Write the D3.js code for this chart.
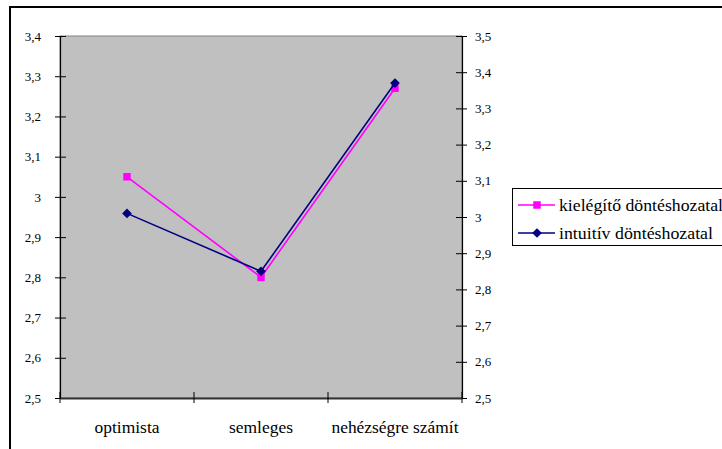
<!DOCTYPE html>
<html>
<head>
<meta charset="utf-8">
<script src="https://cdn.jsdelivr.net/npm/d3@7/dist/d3.min.js"></script>
</head>
<body style="margin:0;background:#fff">
<svg id="chart" width="722" height="449" font-family="Liberation Serif"></svg>
<script>
// Categories along the x axis
const categories = ["optimista", "semleges", "nehézségre számít"];

// Series names (legend order)
const seriesNames = ["kielégítő döntéshozatal", "intuitív döntéshozatal"];

// kielégítő döntéshozatal – plotted on the left (primary) axis
const kielegitoValues = [3.05, 2.80, 3.27];

// intuitív döntéshozatal – plotted on the right (secondary) axis
const intuitivValues = [3.01, 2.85, 3.37];

// Tick values for both value axes
const leftTicks = [2.5, 2.6, 2.7, 2.8, 2.9, 3.0, 3.1, 3.2, 3.3, 3.4];
const rightTicks = [2.5, 2.6, 2.7, 2.8, 2.9, 3.0, 3.1, 3.2, 3.3, 3.4, 3.5];

const SERIF = '"Liberation Serif"';
const svg = d3.select("#chart");
const W = 722, H = 449;
const plot = { left: 60, right: 462, top: 36, bottom: 398 };

// Hungarian decimal comma, "3" for whole values
const fmt = v => (Math.abs(v - Math.round(v)) < 1e-9 ? String(Math.round(v)) : d3.format(".1f")(v).replace(".", ","));

// Scales
const x = d3.scaleBand().domain(categories).range([plot.left, plot.right]).padding(0);
const yL = d3.scaleLinear().domain([2.5, 3.4]).range([plot.bottom, plot.top]);
const yR = d3.scaleLinear().domain([2.5, 3.5]).range([plot.bottom, plot.top]);

// Chart background and outer frame
svg.append("rect").attr("width", W).attr("height", H).attr("fill", "#fff");
svg.append("rect")
  .attr("x", 10).attr("y", 7).attr("width", W + 20).attr("height", H + 20)
  .attr("fill", "none").attr("stroke", "#000").attr("stroke-width", 2);

// Plot area
svg.append("rect")
  .attr("x", plot.left).attr("y", plot.top)
  .attr("width", plot.right - plot.left).attr("height", plot.bottom - plot.top)
  .attr("fill", "#c0c0c0").attr("stroke", "#808080").attr("stroke-width", 1);

// Left axis
const leftAxis = d3.axisLeft(yL).tickValues(leftTicks).tickFormat(fmt).tickSizeInner(5).tickSizeOuter(0).tickPadding(14);
const gL = svg.append("g").attr("transform", `translate(${plot.left},0)`).call(leftAxis);

// Right axis
const rightAxis = d3.axisRight(yR).tickValues(rightTicks).tickFormat(fmt).tickSizeInner(5).tickSizeOuter(0).tickPadding(8);
const gR = svg.append("g").attr("transform", `translate(${plot.right},0)`).call(rightAxis);

// Bottom category axis – ticks sit between categories
const bottomAxis = d3.axisBottom(x).tickSize(0).tickPadding(24);
const gB = svg.append("g").attr("transform", `translate(0,${plot.bottom})`).call(bottomAxis);

[gL, gR, gB].forEach(g => {
  g.attr("font-family", "Liberation Serif").attr("font-size", 13);
  g.select(".domain").attr("stroke", "#000").attr("stroke-width", 1.2);
  g.selectAll("text").attr("fill", "#000").attr("font-family", "Liberation Serif").style("font-family", SERIF);
});
gL.selectAll("text").style("font-size", "13px");
gR.selectAll("text").style("font-size", "13px");
gB.select(".domain").attr("stroke", "#333").attr("stroke-width", 2);
gB.selectAll("text").style("font-size", "16px");

// Crossing tick marks on the value axes
gL.selectAll(".tick line").attr("x1", 6).attr("x2", -5).attr("stroke", "#000");
gR.selectAll(".tick line").attr("x1", -6).attr("x2", 5).attr("stroke", "#000");

// Category separator ticks
const sepPositions = categories.map(c => x(c)).concat([x(categories[categories.length - 1]) + x.bandwidth()]);
svg.append("g").selectAll("line").data(sepPositions).join("line")
  .attr("x1", d => d).attr("x2", d => d)
  .attr("y1", plot.bottom - 6).attr("y2", plot.bottom + 5)
  .attr("stroke", "#000").attr("stroke-width", 1);

// Stretch category labels to their set widths
const catWidths = [65, 64, 127];
gB.selectAll("text")
  .attr("textLength", (d, i) => catWidths[i])
  .attr("lengthAdjust", "spacingAndGlyphs");

const cx = c => x(c) + x.bandwidth() / 2;

// Series lines and markers
const series = [
  { name: seriesNames[0], values: kielegitoValues, y: yL, color: "#ff00ff", symbol: d3.symbolSquare, size: 56 },
  { name: seriesNames[1], values: intuitivValues, y: yR, color: "#000080", symbol: d3.symbolDiamond2, size: 60 }
];

series.forEach(s => {
  const line = d3.line().x((d, i) => cx(categories[i])).y(d => s.y(d));
  svg.append("path").datum(s.values)
    .attr("d", line).attr("fill", "none")
    .attr("stroke", s.color).attr("stroke-width", 1.6);
  svg.append("g").selectAll("path").data(s.values).join("path")
    .attr("transform", (d, i) => `translate(${cx(categories[i])},${s.y(d)})`)
    .attr("d", d3.symbol().type(s.symbol).size(s.size))
    .attr("fill", s.color);
});

// Legend
const lg = svg.append("g");
lg.append("rect")
  .attr("x", 512.5).attr("y", 188.5).attr("width", 240).attr("height", 57)
  .attr("fill", "#fff").attr("stroke", "#000").attr("stroke-width", 1);
const legendWidths = [164, 154];
series.forEach((s, i) => {
  const yy = 205 + i * 28;
  lg.append("line").attr("x1", 518).attr("x2", 555).attr("y1", yy).attr("y2", yy)
    .attr("stroke", s.color).attr("stroke-width", 1.6);
  lg.append("path").attr("transform", `translate(537,${yy})`)
    .attr("d", d3.symbol().type(s.symbol).size(s.size)).attr("fill", s.color);
  lg.append("text").attr("x", 559).attr("y", yy).attr("dy", "0.35em")
    .attr("font-family", "Liberation Serif")
    .style("font-family", SERIF).style("font-size", "17px").attr("fill", "#000")
    .attr("textLength", legendWidths[i]).attr("lengthAdjust", "spacingAndGlyphs")
    .text(s.name);
});
</script>
</body>
</html>
